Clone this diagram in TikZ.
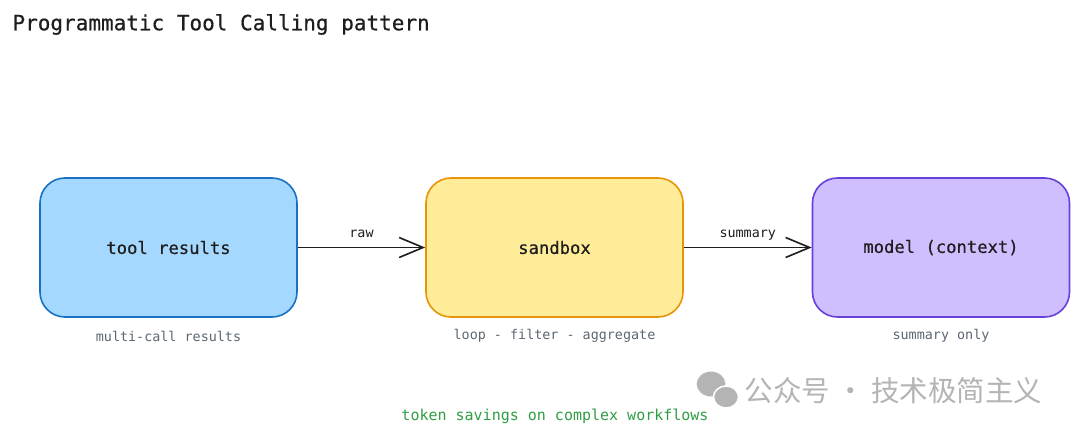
\documentclass[tikz,border=0pt]{standalone}
\usepackage{fontspec}
\setmainfont{DejaVu Sans Mono}
\newfontfamily\medfont[FakeBold=0.5]{DejaVu Sans Mono}
\newfontfamily\cjk{Noto Sans CJK SC}
\usetikzlibrary{arrows.meta}
\definecolor{ink}{HTML}{1E1E1E}
\definecolor{subgray}{HTML}{5C6773}
\definecolor{bluefill}{HTML}{A5D8FF}
\definecolor{blueline}{HTML}{1971C2}
\definecolor{yelfill}{HTML}{FFEC99}
\definecolor{yelline}{HTML}{E8940A}
\definecolor{purfill}{HTML}{D0BFFF}
\definecolor{purline}{HTML}{6741D9}
\definecolor{greentext}{HTML}{2F9E44}
\definecolor{wmgray}{HTML}{B4B4B4}
\begin{document}
\begin{tikzpicture}[x=1pt,y=-1pt,
  box/.style={rounded corners=25pt, line width=1.6pt, minimum width=257pt, minimum height=139pt, inner sep=0pt, text=ink, font=\medfont\fontsize{17.2}{20}\selectfont},
  sub/.style={text=subgray, font=\fontsize{13.4}{16}\selectfont},
  elabel/.style={text=ink, font=\fontsize{13.4}{16}\selectfont, text height=8pt, text depth=2.5pt, inner sep=2pt},
  flow/.style={draw=ink, line width=1.6pt, -{Straight Barb[length=24pt,width=20pt,line width=1.6pt]}}
]
\useasboundingbox[fill=white] (0,0) rectangle (1080,436);
\node[anchor=west, text=ink, font=\medfont\fontsize{21}{24}\selectfont] (title) at (9,24.5) {Programmatic Tool Calling pattern};
\node[box, fill=bluefill, draw=blueline] (tool) at (168.5,247.5) {\raisebox{-1.5pt}{tool results}};
\node[box, fill=yelfill, draw=yelline] (sand) at (554.5,247.5) {\raisebox{-1.5pt}{sandbox}};
\node[box, fill=purfill, draw=purline] (model) at (941,247.5) {\raisebox{-1.5pt}{model (context)}};
\draw[flow] (tool.east) -- node[elabel, above=5pt] (lraw) {raw} (sand.west);
\draw[flow] (sand.east) -- node[elabel, above=5pt] (lsum) {summary} (model.west);
\node[sub] (s1) at (168.5,336) {multi-call results};
\node[sub] (s2) at (554.5,336) {loop - filter - aggregate};
\node[sub] (s3) at (941,336) {summary only};
\node[text=greentext, font=\fontsize{15}{18}\selectfont] (note) at (555,416.5) {token savings on complex workflows};
\fill[wmgray, draw=white, line width=1pt] (711,384) ellipse (15pt and 13pt);
\fill[wmgray, draw=white, line width=1.5pt] (726,397) ellipse (12.5pt and 11pt);
\node[text=wmgray, anchor=west, font=\cjk\fontsize{28.5}{32}\selectfont] (wm) at (741,391) {公众号 · 技术极简主义};
\end{tikzpicture}
\end{document}
